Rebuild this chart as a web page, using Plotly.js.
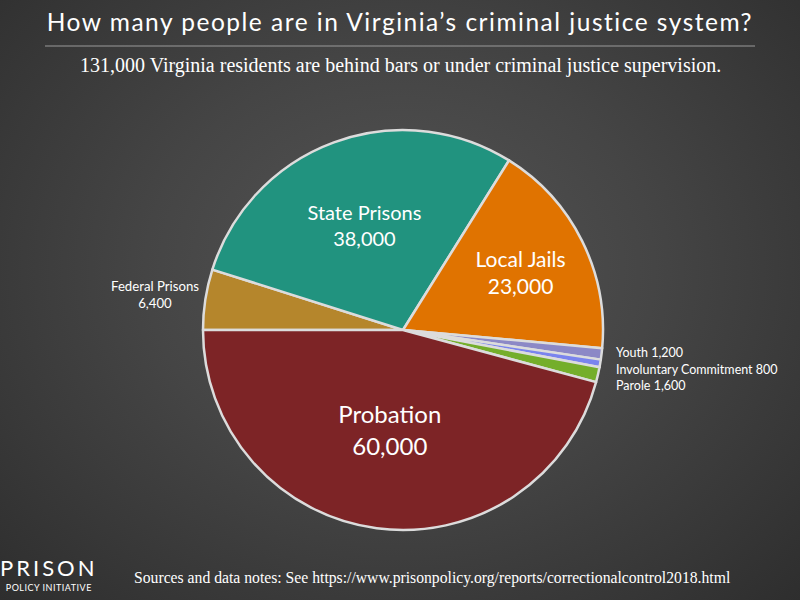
<!DOCTYPE html>
<html><head><meta charset="utf-8">
<script src="https://cdn.plot.ly/plotly-3.0.1.min.js"></script>
<style>
html,body{margin:0;padding:0;}
body{width:800px;height:600px;background:radial-gradient(ellipse at 50% 45%, #555555 0%, #454545 45%, #2e2e2e 100%);}
#chart{width:800px;height:600px;}
g.annotation[data-index="0"] text{letter-spacing:1.5px;}
g.annotation[data-index="7"] text{letter-spacing:3px;}
g.annotation[data-index="8"] text{letter-spacing:0.5px;}
</style></head><body>
<div id="chart"></div>
<script>
const categories = ["Federal Prisons","State Prisons","Local Jails","Youth","Involuntary Commitment","Parole","Probation"];
const values = [6400,38000,23000,1200,800,1600,60000];
const valueLabels = ["6,400","38,000","23,000","1,200","800","1,600","60,000"];
const colors = ["#b5862c","#21937f","#e07300","#8c88c6","#7a84ee","#74ae2b","#7d2426"];
const insideShown = [false,true,true,false,false,false,true];
const insideSizes = [13,20,21,13,13,13,24];

const titleText = "How many people are in Virginia’s criminal justice system?";
const subtitleText = "131,000 Virginia residents are behind bars or under criminal justice supervision.";
const sourceText = "Sources and data notes: See https://www.prisonpolicy.org/reports/correctionalcontrol2018.html";

const texts = categories.map((c,i)=> insideShown[i] ? c + "<br>" + valueLabels[i] : "");

const trace = {
  type: "pie",
  labels: categories,
  values: values,
  text: texts,
  textinfo: "text",
  textposition: insideShown.map(s => s ? "inside" : "none"),
  insidetextorientation: "horizontal",
  insidetextfont: {family: "Lato, 'Open Sans', sans-serif", color: "#ffffff", size: insideSizes},
  sort: false,
  direction: "clockwise",
  rotation: -90,
  marker: {colors: colors, line: {color: "#dcdcdc", width: 2.5}},
  domain: {x: [203/800, 603/800], y: [1-530/600, 1-130/600]},
  hoverinfo: "label+value",
  showlegend: false
};

const outsideFont = {family: "Lato, 'Open Sans', sans-serif", color: "#ffffff", size: 12.5};
const annotations = [
  {text: titleText, x: 0.5, y: 1-21/600, xref: "paper", yref: "paper", showarrow: false, xanchor: "center", yanchor: "middle",
   font: {family: "Lato, sans-serif", size: 24.5, color: "#ffffff"}},
  {text: subtitleText, x: 0.5, y: 1-66/600, xref: "paper", yref: "paper", showarrow: false, xanchor: "center", yanchor: "middle",
   font: {family: "'Liberation Serif', serif", size: 20, color: "#ffffff"}},
  {text: categories[0] + "<br>" + valueLabels[0], x: 155/800, y: 1-294/600, xref: "paper", yref: "paper", showarrow: false,
   xanchor: "center", yanchor: "middle", align: "center", font: {family: "Lato, 'Open Sans', sans-serif", color: "#ffffff", size: 13.2}},
  {text: categories[3] + " " + valueLabels[3], x: 614/800, y: 1-352/600, xref: "paper", yref: "paper", showarrow: false, xanchor: "left", yanchor: "middle", font: outsideFont},
  {text: categories[4] + " " + valueLabels[4], x: 614/800, y: 1-369/600, xref: "paper", yref: "paper", showarrow: false, xanchor: "left", yanchor: "middle", font: outsideFont},
  {text: categories[5] + " " + valueLabels[5], x: 614/800, y: 1-385/600, xref: "paper", yref: "paper", showarrow: false, xanchor: "left", yanchor: "middle", font: outsideFont},
  {text: sourceText, x: 432.5/800, y: 1-578/600, xref: "paper", yref: "paper", showarrow: false, xanchor: "center", yanchor: "middle",
   font: {family: "'Liberation Serif', serif", size: 15.7, color: "#ffffff"}},
  {text: "PRISON", x: 7/800, y: 1-567/600, xref: "paper", yref: "paper", showarrow: false, xanchor: "left", yanchor: "middle",
   font: {family: "Lato, sans-serif", size: 22, color: "#ffffff"}},
  {text: "POLICY INITIATIVE", x: 8/800, y: 1-587/600, xref: "paper", yref: "paper", showarrow: false, xanchor: "left", yanchor: "middle",
   font: {family: "Lato, sans-serif", size: 9, color: "#ffffff"}}
];

const layout = {
  width: 800, height: 600,
  margin: {l: 0, r: 0, t: 0, b: 0},
  paper_bgcolor: "rgba(0,0,0,0)",
  plot_bgcolor: "rgba(0,0,0,0)",
  showlegend: false,
  annotations: annotations,
  shapes: [
    {type: "line", xref: "paper", yref: "paper", x0: 45/800, x1: 755/800, y0: 1-46/600, y1: 1-46/600,
     line: {color: "#9a9a9a", width: 1}}
  ]
};

Plotly.newPlot("chart", [trace], layout, {displayModeBar: false, staticPlot: true});
</script>
</body></html>
